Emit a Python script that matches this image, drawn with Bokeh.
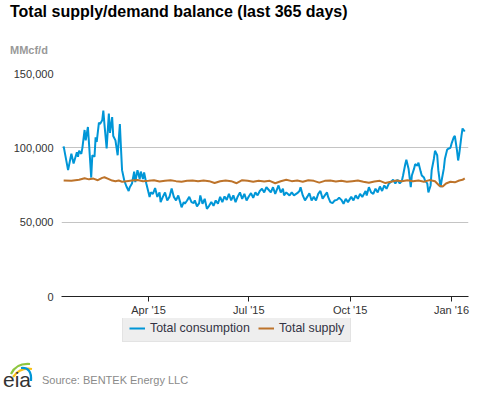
import pandas as pd
from bokeh.plotting import figure
from bokeh.models import (Range1d, FixedTicker, NumeralTickFormatter, MonthsTicker,
                          DatetimeTickFormatter, Legend, LegendItem, ColumnDataSource, Div)
from bokeh.layouts import column
from bokeh.embed import file_html
from bokeh.resources import INLINE

BASE = pd.Timestamp("2015-01-01")

# Total consumption (days since 2015-01-01, thousand MMcf/d)
cons_day = [13, 17, 20, 22, 25, 26, 27, 29, 30, 32, 33, 35, 36, 38, 39, 41, 42, 43, 45, 46,
            48, 49, 50, 52, 54, 55, 57, 58, 60, 62, 64, 65, 66, 68, 70, 72, 73, 75, 77, 78,
            80, 82, 83, 85, 86, 88, 91, 92, 94, 96, 98, 100, 101, 103, 105, 107, 109, 111, 113, 115,
            117, 119, 120, 122, 123, 125, 127, 129, 131, 132, 134, 136, 137, 139, 141, 143, 145, 147, 149, 151,
            153, 155, 157, 159, 161, 163, 165, 167, 169, 171, 173, 175, 177, 179, 181, 183, 185, 187, 189, 191,
            193, 195, 197, 199, 201, 203, 205, 208, 210, 212, 213, 215, 218, 220, 222, 225, 227, 228, 230, 232,
            234, 236, 238, 240, 242, 244, 246, 248, 250, 252, 253, 255, 257, 259, 261, 263, 265, 267, 269, 271,
            274, 276, 278, 280, 282, 284, 287, 288, 290, 292, 294, 296, 298, 300, 302, 304, 306, 308, 310, 312,
            314, 316, 318, 320, 321, 323, 324, 326, 328, 329, 331, 332, 334, 335, 337, 338, 340, 341, 343, 344,
            346, 347, 349, 350, 352, 353, 355, 356, 358, 359, 361, 362, 364, 365, 367, 368, 370, 371, 372, 374,
            375, 376, 377]
cons_k = [101, 85, 96, 89.5, 97, 94, 98, 96, 100, 112, 105, 114, 103, 80, 95, 94, 107, 104, 117, 116,
          118.5, 125, 116, 99.6, 123, 110, 120.7, 108, 105, 95, 116, 100, 85, 78, 74, 71, 73.5, 76, 84, 77,
          85, 79, 84, 79, 83.5, 76, 67, 70, 69, 73, 67, 70, 63.5, 67, 70, 64.6, 67, 72.7, 67, 64.6,
          68, 62.8, 60, 63.5, 62.4, 64.6, 67, 63.5, 62.8, 64.6, 60.6, 62.8, 68, 62.4, 65.7, 59, 61, 63.5, 61, 64.6,
          62.4, 67, 63.5, 67.3, 65, 69, 64.6, 68, 63.5, 67.3, 70, 65.7, 69, 64.6, 67.3, 69.5, 66.4, 70, 68, 71,
          72.5, 70, 73.5, 71.8, 70, 73.5, 69, 74.7, 70, 72.5, 68, 70, 68, 70, 68, 69.5, 71, 73.5, 68, 64.6,
          67, 69.5, 64.6, 67, 64.6, 69, 71, 65.7, 68, 70, 67, 63.5, 62.8, 64.6, 65, 66.4, 65, 62.4, 65.7, 63.5,
          67, 64.6, 68, 65.7, 69, 67, 71, 68, 73.5, 70, 69, 72.5, 70, 74, 71, 74.7, 72.5, 75.8, 77, 78.5,
          76, 78.5, 76, 78, 81.4, 89, 92, 86, 73.5, 81.4, 86, 89, 88, 90, 84, 81.4, 80, 78, 76, 70,
          74.7, 85, 92.7, 98, 95, 85, 73.5, 78, 86, 92.7, 98.7, 99.4, 100, 102.8, 107, 108, 98, 91.5, 96, 108,
          113, 112, 111]

# Total supply (days since 2015-01-01, thousand MMcf/d)
sup_day = [13, 20, 27, 32, 36, 40, 44, 48, 50, 54, 57, 60, 63, 66, 70, 75, 80, 85, 90, 95,
           100, 105, 110, 115, 120, 125, 130, 135, 140, 145, 150, 155, 160, 165, 170, 175, 180, 185, 190, 195,
           200, 205, 210, 215, 220, 225, 230, 235, 240, 245, 250, 255, 260, 265, 270, 275, 280, 285, 290, 295,
           300, 305, 310, 315, 320, 325, 330, 335, 340, 345, 350, 354, 357, 360, 364, 368, 372, 375, 377]
sup_k = [78, 77.8, 78.5, 79.5, 78.8, 79.3, 78.2, 79.8, 80.2, 79, 78, 77.5, 78, 77.2, 77.6, 78, 78.3, 77.5, 77.8, 78.2,
         77.3, 77.8, 78.2, 77.6, 77.2, 77.8, 78, 77.5, 78, 77.6, 76.3, 77.5, 78, 77.6, 76.2, 78.2, 77.8, 77.2, 77.8, 77.4,
         77.8, 76.2, 77.5, 78.5, 77.6, 78, 77.2, 78.2, 77.8, 76.6, 77.8, 78, 77.3, 77.8, 77.2, 77.6, 78, 77.2, 76.5, 77.4,
         77.8, 76.3, 77.2, 78, 77.5, 78.2, 77.5, 78, 77.2, 78.3, 77.5, 74.5, 74, 76, 77.2, 76.8, 78, 78.5, 79.5]

title_text = "Total supply/demand balance (last 365 days)"
unit_text = "MMcf/d"
source_text = "Source: BENTEK Energy LLC"
series_names = ["Total consumption", "Total supply"]
series_colors = ["#0096d7", "#bd732a"]
y_ticks = [0, 50000, 100000, 150000]
month_ticks = [0, 3, 6, 9]

FONT = "Liberation Sans"
CSS_FONT = "'Liberation Sans', Arial, sans-serif"


def to_dates(days):
    return [BASE + pd.Timedelta(days=d) for d in days]


cons_src = ColumnDataSource(dict(date=to_dates(cons_day), v=[k * 1000 for k in cons_k]))
sup_src = ColumnDataSource(dict(date=to_dates(sup_day), v=[k * 1000 for k in sup_k]))

HEADER_H = 62
MAIN_H = 256
LEG_H = 30
FOOTER_H = 393 - HEADER_H - MAIN_H - LEG_H

header = Div(text=(
    f'<div style="position:relative;width:477px;height:{HEADER_H}px;font-family:{CSS_FONT};">'
    f'<div style="position:absolute;left:10px;top:2px;font-size:16px;font-weight:bold;color:#000;'
    f'line-height:19px;white-space:nowrap;">{title_text}</div>'
    f'<div style="position:absolute;left:10px;top:44px;font-size:11px;font-weight:bold;color:#999999;'
    f'line-height:13px;white-space:nowrap;">{unit_text}</div></div>'),
    width=477, height=HEADER_H, margin=0)

p = figure(width=477, height=MAIN_H, x_axis_type="datetime",
           x_range=Range1d(BASE + pd.Timedelta(days=11.04), BASE + pd.Timedelta(days=380.4)),
           y_range=Range1d(0, 150000),
           output_backend="svg", toolbar_location=None,
           min_border_left=61, min_border_right=9, min_border_top=73 - HEADER_H,
           min_border_bottom=MAIN_H - (296 - HEADER_H))
p.outline_line_color = None
p.background_fill_color = "white"
p.border_fill_color = "white"

r1 = p.line("date", "v", source=cons_src, line_color=series_colors[0], line_width=2)
r2 = p.line("date", "v", source=sup_src, line_color=series_colors[1], line_width=2)

p.xgrid.visible = False
p.ygrid.grid_line_color = "#c4c4c4"
p.ygrid.ticker = FixedTicker(ticks=y_ticks)

yax = p.yaxis[0]
yax.ticker = FixedTicker(ticks=y_ticks)
yax.formatter = NumeralTickFormatter(format="0,0")
yax.axis_line_color = None
yax.major_tick_line_color = None
yax.minor_tick_line_color = None
yax.major_tick_out = 0
yax.major_tick_in = 0
yax.major_label_standoff = 8
yax.major_label_text_font = FONT
yax.major_label_text_font_size = "11px"
yax.major_label_text_color = "#333333"

xax = p.xaxis[0]
xax.ticker = MonthsTicker(months=month_ticks)
fmt = "%b '%y"
xax.formatter = DatetimeTickFormatter(months=fmt, days=fmt, years=fmt, hours=fmt)
xax.axis_line_color = "#222222"
xax.major_tick_line_color = "#222222"
xax.minor_tick_line_color = None
xax.major_tick_out = 5
xax.major_tick_in = 0
xax.major_label_standoff = 2
xax.major_label_text_font = FONT
xax.major_label_text_font_size = "11px"
xax.major_label_text_color = "#333333"

# legend strip: its own small figure, swatches styled like the series lines
lg = figure(width=477, height=LEG_H, x_range=Range1d(0, 1), y_range=Range1d(0, 1),
            output_backend="svg", toolbar_location=None,
            min_border_left=61, min_border_right=9, min_border_top=0, min_border_bottom=0,
            x_axis_location=None, y_axis_location=None)
lg.outline_line_color = None
lg.grid.visible = False
k1 = lg.line(x=[5, 6], y=[5, 6], line_color=series_colors[0], line_width=2)
k2 = lg.line(x=[5, 6], y=[5, 6], line_color=series_colors[1], line_width=2)
legend = Legend(items=[LegendItem(label=series_names[0], renderers=[k1]),
                       LegendItem(label=series_names[1], renderers=[k2])],
                orientation="horizontal", location=(61, LEG_H - 24))
legend.background_fill_color = "#eeeeee"
legend.background_fill_alpha = 1
legend.border_line_color = "#d8d8d8"
legend.label_text_font = FONT
legend.label_text_font_size = "12.4px"
legend.label_text_color = "#333344"
legend.glyph_width = 16
legend.glyph_height = 12
legend.label_height = 12
legend.label_standoff = 5
legend.spacing = 8
legend.padding = 6
legend.margin = 0
lg.add_layout(legend)

off = FOOTER_H - 38
logo_svg = (
    f'<svg width="40" height="38" viewBox="0 0 40 38" style="position:absolute;left:0;top:{off}px;">'
    '<path d="M 11 19 Q 16 8 30 9" stroke="#8dc63f" stroke-width="2.2" fill="none"/>'
    '<path d="M 13 22 Q 20 12 32 14" stroke="#f7c11a" stroke-width="2.2" fill="none"/>'
    '<path d="M 21 13 Q 32 12 31 26" stroke="#0096d7" stroke-width="2.2" fill="none"/>'
    '<text x="3" y="32" font-family="Liberation Serif, serif" font-size="21" fill="#333333">eia</text>'
    '</svg>')
footer = Div(text=(
    f'<div style="position:relative;width:477px;height:{FOOTER_H}px;font-family:{CSS_FONT};">'
    f'{logo_svg}'
    f'<div style="position:absolute;left:42px;top:{19 + off}px;font-size:11px;color:#8a8a8a;'
    f'line-height:13px;white-space:nowrap;">{source_text}</div></div>'),
    width=477, height=FOOTER_H, margin=0)

layout = column(header, p, lg, footer, spacing=0)
open("out.html", "w").write(file_html(layout, INLINE))
